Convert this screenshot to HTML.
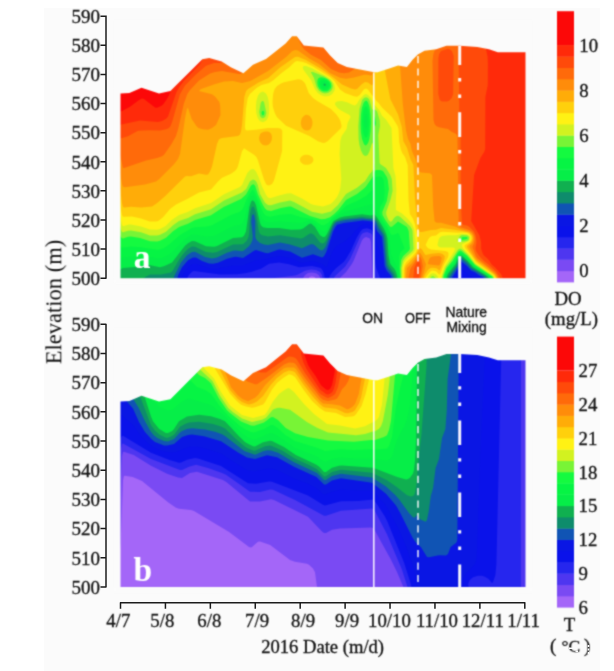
<!DOCTYPE html>
<html><head><meta charset="utf-8"><title>chart</title>
<style>html,body{margin:0;padding:0;background:#fff}body{width:614px;height:671px;overflow:hidden;font-family:"Liberation Serif",serif}svg{display:block}</style></head>
<body>
<svg width="614" height="671" viewBox="0 0 614 671">
<defs><filter id="soft" x="-2%" y="-2%" width="104%" height="104%" color-interpolation-filters="sRGB"><feConvolveMatrix order="3" kernelMatrix="0.05 0.1 0.05 0.1 0.4 0.1 0.05 0.1 0.05" edgeMode="none"/></filter></defs>
<rect width="614" height="671" fill="#fff"/>
<rect x="44" y="8" width="556" height="663" fill="#fbfbfb"/>
<g filter="url(#soft)">
<g>
<rect x="119.5" y="30" width="407" height="249.2" fill="#A466F8"/>
<path fill="#7A4AF3" fill-rule="evenodd" d="M119,30 527,30 527,280 314.3,280 315.5,279 315.5,278 314.6,277 312,276.3 310,276.7 309,277.6 308.9,279 309.9,280 119,280Z"/>
<path fill="#4E36F0" fill-rule="evenodd" d="M119,30 527,30 527,280 372.8,280 371,241.9 370,238.4 366,237.1 363.9,238 362,240.2 353.5,261 351.8,264 346.1,272 339.8,278 339,280 320.1,280 320,277 318.7,275 316,273.3 312,272.4 308,273.1 305.1,275 303.1,278 303.3,280 119,280Z"/>
<path fill="#2626EE" fill-rule="evenodd" d="M119,30 527,30 527,280 374.5,280 372.7,237 372,234.7 371,233.4 367,231.9 363,232.9 361,234.9 350.1,259 345,266.7 335.1,276 333.9,278 333.5,280 322.6,280 322,275 320.1,272 316,270.1 311,269.5 305,270.7 298,274.5 295,275.6 274.6,278 270.4,279 269.4,280 119,280Z"/>
<path fill="#0A12EA" fill-rule="evenodd" d="M119,30 527,30 527,280 380.1,280 379.7,277 376,267.6 375.3,263 373.3,234 372,230.5 371,229.5 367,228.2 363,228.9 360.7,231 356.6,238 351,250.5 346,258.9 343.6,262 336,268.2 332.5,272 329.7,276 328.8,280 324.7,280 324.5,276 323,271 321,268.3 319,267.5 312,266.1 299,267.2 289,264.2 279,262.6 269,263.7 261,268.7 252,271.7 245,273.3 237,274.3 220,274.6 194,270.9 192,271.7 188.9,275 187.6,277 187.2,280 119,280Z"/>
<path fill="#0A16E4" fill-rule="evenodd" d="M119,30 527,30 527,280 475.3,280 473.8,278 469,275.7 462,269.8 461,270.2 456,276.6 454.8,280 389.2,280 388.7,278 385,273.7 383.4,270 381,255.2 380,251.2 377,244.5 373,227 371,225.1 366,224.2 363,224.4 361,225.3 357.1,229 351,236.1 346,240.7 336,246.6 332,252.6 327.3,266 326,267.6 322,264 315,261.5 312,261.3 303,262.8 301,262.8 290,257.9 279,255.9 263,259.7 256,260.2 243,265.5 234,265.4 218,268.5 210,268.4 196,263.9 193,263.9 189.8,266 186,270.2 182.3,276 181.3,280 119,280Z"/>
<path fill="#1054B4" fill-rule="evenodd" d="M119,30 527,30 527,280 484.4,280 484,278.2 483,277.2 479,275.3 475,272.3 471,270.5 467,265.9 461,261.3 460,262.7 458.2,268 452.4,277 451.4,280 392,280 391,275.8 386.9,271 384.7,266 382,236.9 377,231 374.9,224 374,222.5 372,221.5 363,220.5 343.7,223 337,224.8 335,227.4 333,231.5 326.3,252 324,256.2 322,257.6 313,254.3 302,257.7 290,251.6 280,249.6 278,249.8 268,253.3 265.5,253 256,250 254,250.8 243,258.1 236,256.8 234,257 227,258.8 218,262.7 213,263.8 209,263.5 202,260.9 196,257.4 193,257.4 188,260.2 182,267.2 178,275.6 177.1,280 119,280Z"/>
<path fill="#0E8C6C" fill-rule="evenodd" d="M119,30 527,30 527,280 486.5,280 486,278 484.2,276 471,268.2 467,263.2 461,258.4 460,258.8 457,266.7 449,277.9 448.7,280 394,280 392.9,275 388,268.5 386.4,265 383.7,236 382,232.7 378.6,228 376,221.7 374,219.8 362,218.4 345.5,220 336.8,222 335,223.4 333,226.6 326,246 324,249.1 322,250.5 320,249.9 314,244.7 312,244.1 310,244.5 302,248.3 290,244.4 280,242.5 268,245.1 264,244.4 260,242.9 256.6,240 255.3,237 255.3,221 254.1,215 253,213.9 251.9,216 251.2,222 252.7,236 252.4,240 251.2,243 249.2,246 244,250.6 242,251.3 236,250.4 234,250.6 227,252.8 217,257.5 212,258.4 205,256.9 195,251.8 192,252.1 187,255.3 181,262.5 174.4,276 173.3,280 119,280Z"/>
<path fill="#10B050" fill-rule="evenodd" d="M119,30 527,30 527,280 488.3,280 487.8,278 485.9,276 472,267.4 468,262.3 463,257.9 461,256.8 460,257 459,258.1 456.5,265 448.2,276 447.1,280 396,280 395.6,277 394.6,274 389,266.3 388.1,264 386.8,255 385.9,239 385,235 377,220.3 375,217.8 371,217.9 362,216.7 342,218.9 336,220.9 334,222.5 332.5,225 326,240.8 324,243.1 322,243.6 320,242.5 314,234.8 311,233.3 309,234.1 303,238.1 301,238.6 280,235.2 268,236.5 262,235.3 260,233.7 258.7,231 256,212.9 254,207.1 253,206.4 252,207.1 251.1,209 250,214.2 249.2,233 248.5,237 246.6,241 243,244.2 233,244.6 217,251.9 213,252.7 206,252 195,246.7 192,246.6 187.9,249 184,252.9 179.5,259 173,270.2 171,272.4 161,274.6 150,274.5 145.2,277 144.2,278 143.4,280 119,280Z"/>
<path fill="#06EE48" fill-rule="evenodd" d="M119,30 527,30 527,280 490.1,280 489.4,278 487.4,276 473.1,267 467,259.9 462,255.8 460,255.4 458.5,257 455.6,264 448,273.6 446.5,277 446,280 397.6,280 397.2,276 396,271.9 394.5,269 391,265 390,262.9 388.5,255 387.4,238 386.3,234 384.1,229 377,217.2 375,215 374,214.6 371,215.4 362,214.3 344,216.5 340,217.5 333.6,221 331.7,224 327,234.1 325,236.7 323,237.1 320,235.3 315,227.1 311,223.6 309,224.1 303,228.5 300,229.4 291,229.8 279,228 267,228.1 263,227.3 261,225.4 260,223.1 256,205.3 254.6,202 253,200.4 252,200.6 251,202 249.4,207 246,231.6 244,235.7 242,237.2 233,238.1 217,245.9 214,246.7 206,246.3 195,241.3 192,240.9 188,243.3 185,245.8 172,262.4 164.5,266 160,267.2 148,264.7 138,266.7 123,267.9 119,270ZM324,83.5 323.5,85 325,85.9 325.8,85 325.5,84Z"/>
<path fill="#06F444" fill-rule="evenodd" d="M119,30 527,30 527,280 491.5,280 491,278 485,273.2 474,266.5 467,258.5 462,254.4 460,253.8 458,255.8 455,262.7 448,270.9 445.7,276 445,280 398.8,280 397,267.3 391,254.6 389.3,239 387.4,232 385.6,228 381,221.1 377.2,214 375,207.7 372,204.6 369,204.8 344,212.3 333.8,219 332,221 327,229.1 325,230.9 323,231.2 320,229.6 315.7,224 311,220.7 309,220.8 301,223 280,221.4 269,222.3 265,221.4 263,219.7 261.4,217 256.6,201 255,197.7 253,195.6 251,196.6 249,200 244.3,220 243,222.7 241,224.5 233,226.3 216,235 213,236 206,236.6 195,234.4 192,234.5 184.9,239 171,253.1 166,256.2 161,258.2 158,258.3 147,256.5 130,256.7 122,257.8 119,257.2ZM322,81.5 320.8,84 322,87 324,88.3 327,87.6 328.1,86 327.6,83 325,81ZM366,114.1 365,115.3 364.4,121 364.9,127 366,128.4 367,126.3 367.4,121 367,116.2Z"/>
<path fill="#14FA40" fill-rule="evenodd" d="M119,30 527,30 527,280 492.6,280 492.2,278 491,276.6 474.8,266 467,257.1 462,252.9 460,252.2 457.9,254 453.8,262 447.6,269 444.6,276 444,280 399.8,280 398.9,267 399.1,257 400.1,253 401,251.6 404.2,249 404.4,248 399,234 398,233.1 394,234.7 392,234.8 391,234.4 386.7,226 382,219.2 379.5,214 379.4,211 380.1,207 384.1,200 384.6,191 383.6,180 382,177.3 380,176.5 376,176.7 375,177.5 374,180 373,187 372,190.3 366,196 357,201.1 346,205.7 338.7,213 332.6,218 328,223 324,225.2 321,224.9 315.6,221 312,219.1 302,217.4 291,214.1 280,214.7 270,216.7 266,215.7 264,213.7 262.4,211 256,195 254,191 253,190.1 252,190.3 250,193 246.7,199 243,208.6 240,211.8 231,215 212,225.3 207,226.5 195,227.2 192,228 180,235 168.5,245 164,247.9 160,249.4 157,249.7 141,247.3 131,246.4 122,247.8 119,244.6ZM320.4,80 319.2,82 319.1,84 320.8,88 324,89.9 326,89.9 328,89 329.8,86 329.7,84 328.6,82 326.2,80 324,79.2 322,79.2ZM366,106.2 364.8,107 363.3,111 362.3,122 363.3,133 365,137.2 366,137.6 367,136.7 368.3,133 369.4,122 368.4,111 367,107Z"/>
<path fill="#78F436" fill-rule="evenodd" d="M119,30 527,30 527,280 493.4,280 493.1,278 491.5,276 475,265.1 467.4,256 462,251.4 460,250.6 458,251.9 452.5,261 446.7,268 443.9,275 443,280 400.8,280 400.2,268 401.1,260 403.2,256 408.7,251 410,249 408.7,231 407,227 398,221.6 392,226.8 390,226.7 385.3,220 382.5,215 382.3,212 386.8,201 388.9,189 387.8,180 386.8,177 383,171.1 380,169.9 376,170 375,170.7 372,177.9 366,186.5 364,188.6 357,193.9 346,200 338.3,210 334.2,214 330,217.3 325,219 321,219.3 310,216.1 291,206.5 289,206.4 280.8,208 271,210.9 267,210.3 265,208.6 263,205.3 258,194.7 255.2,186 254,184.6 253,184.2 251,185.6 246,194.6 241,199 223.6,207 211,215.3 195,220.1 188,223.7 179.1,227 173,231.2 166,237.8 160,240.7 157,241.5 150,241.3 140.1,238 131,236.4 128,236.7 123,238.4 122,238.2 120.9,237 119,232.6ZM318.6,78 317.5,80 317.3,83 317.9,86 319.6,89 322,90.9 324,91.5 327,91.4 329,90.3 330.8,88 331.3,86 330.7,83 329.3,81 327,79.1 324,77.8 321,77.3ZM366,100.6 364,101.9 362,107.4 361,114 360.6,124 360.9,132 362,139.1 364,144.3 365,145.3 366,145.5 368,143.3 369.4,139 370.5,132 371,123 370.6,114 369.5,107 368,102.4 367,101ZM263,110.7 262,111.2 261.5,113 262,115 263,115.4 264,114.7 264.3,113 264,111.6ZM375,115.7 374.2,123 375,126.4 375.8,125 376,123ZM461.1,239 461.9,240 467,239.1 467.6,238 466.8,237 463,236.9 462,237.2Z"/>
<path fill="#D2F220" fill-rule="evenodd" d="M119,30 527,30 527,280 494.2,280 493.9,278 492.6,276 475,264 468,255.1 462,249.6 460,248.5 458,249.5 450.5,261 446,266.8 442.8,275 442,280 436.3,280 435.9,278 433,276 430.8,277 429.7,280 401.7,280 401.4,268 402.9,261 405,257.8 412.4,251 413.5,249 412.5,231 411.9,229 410,226 400,216.7 398,215.8 396,216.3 394,218 392,221 391,221.7 390,221.6 388.5,220 386.4,215 386.2,212 390.4,200 392.6,191 391.8,179 390.3,175 386,168.1 380.2,164 379.6,163 378.3,135 380,126 379.7,120 377,111.2 375,109.4 373,109.8 372,109.1 369.6,100 368,98.1 366,97.3 364,98 362.1,100 359.5,109 358.3,126 358.6,139 359.5,145 361,150.5 363,154.4 365,155.9 367,155.4 368,154.4 369.6,151 372,142.9 373,143.6 374.4,163 373,169 372,171.6 369,175.1 365,181.3 357,187.7 346,194.1 338,205.1 331,211.5 322,213.8 312,211.8 294,201.9 290,200.4 280,202.4 271,205.2 268,205 265,202.8 260,194 257.8,185 256.5,182 255,180.3 253,179.5 250,181.2 246.2,189 242,192.5 224,200.6 211,209.2 195,214.3 188,218 179,221.1 173,225.2 166,231.8 160,234.7 157,235.5 150,235.4 141,232.3 131,230.4 128,230.7 123,232.3 122,231.9 120.7,229 119,220.5ZM310.8,72 314,78 316.5,87 319,90.8 322,92.8 325,93.5 328,93 331,91 332.3,89 332.9,86 332.1,83 329.8,80 324,76.3 313,71.9ZM263,100.9 262,101 260.7,103 259.2,112 260,116 261,117.5 263,118.3 265.2,117 266.4,113 264,102ZM469.1,237 467,235.3 462,235.1 460.1,236 457.4,240 458,241 460,242.1 466,241.3 468,240.4 469,239.2Z"/>
<path fill="#FFF214" fill-rule="evenodd" d="M119,30 527,30 527,280 495,280 494.3,277 493,275.3 476,263.7 469.4,255 462.9,248 461.7,245 462.6,244 469,241.1 470.4,238 469.7,236 468,234.4 462,233.7 456,235.3 448,235.2 442,236.1 440,237.2 438.8,239 437.4,245 438.9,247 441,247.6 453,247.5 454.6,248 454.9,249 454.3,251 444.4,267 440.4,280 438.7,280 438.4,278 437,275.3 435,273.8 433,273.2 431,273.8 429,275.9 427.7,278 427.4,280 402.7,280 402.6,268 404,262.6 406,259.7 414,252.2 415.6,249 415.5,240 414.2,229 412.1,224 408,219.1 402,213.5 395.9,210 395.8,201 396.4,190 395.5,176 393.4,168 391.5,128 386.3,120 382,115.7 379.2,110 373.9,104 370.9,98 368,94.9 366,93.9 364,94.7 359.1,100 357,103.7 355,105.4 353,105 347,102.2 342,101.1 338,101.2 336,102 335.1,103 335.2,105 337.6,108 341,110.5 349.5,115 350.6,117 347.6,123 346.6,129 341.7,136 340.3,141 339.6,154 341.3,179 340.2,189 339,193.1 337,197.1 333.9,201 330.7,204 323,206.4 314.1,205 311,204 302,198.5 291,193.2 287,193.6 279,195.4 271,198 269,197.9 267.5,197 266,194.7 262,186.5 259,177.9 256,171.6 254,169.3 252,168.9 250,169.9 247.3,173 242,185 239.9,187 224,194.3 211,203.1 195,208.2 187.7,212 179,215 172,219.8 165.6,226 160,228.9 157,229.7 150,229.6 141,226.5 131,224.6 129,224.6 123,226.2 122,225 121,220.8 119,207.8ZM303,66.6 302.8,68 303.6,70 311,80.1 314.8,89 317.7,93 321,95.2 325,96.4 329,96 332,94.3 334.3,91 335.1,88 334.2,84 331.5,80 327,76.5 312,68.3 306,66.1 304,66ZM263,91.6 260,92.7 258,95.6 256.4,101 255.9,107 256.3,113 257.7,118 260,121.3 263,122.2 266,120.7 267.8,118 268.9,114 269.2,109 268.8,102 267.7,97 266,93.6Z"/>
<path fill="#FFD00C" fill-rule="evenodd" d="M119,30 527,30 527,280 495.8,280 495.2,277 493.7,275 476,262.4 470.9,255 465.1,248 464.5,246 464.9,245 469.8,242 471.4,239 471,236.2 469.2,234 467,233 463,232.5 458,232.7 443,231.8 440,232.2 436,235.5 432,236 430.1,237 428.4,239 425.6,245 427.7,248 431,249.6 445.3,251 448,252.1 448.6,254 448.1,257 443.8,265 440,274.4 439,274.3 436,271.2 432,270.5 430,271.7 425.9,277 425.3,280 403.6,280 403.7,269 404.7,265 406.4,262 412,256.9 416,252.3 417.4,248 417.9,243 417.3,237 415,224.2 413,218.8 409.9,214 408.5,200 407.7,165 405,157.1 402.2,153 400.7,149 399.2,142 398.5,129 397.6,126 392,117.1 382,107.5 378.7,103 376,100.4 374,97 371.9,95 368,89.5 366,88.6 364,89.3 359.7,95 357,96.7 354,96.3 345,93.1 340,89.6 334.4,81 329.8,77 313,66.4 306,62.9 302,61.7 297,61.1 295,61.8 289,67.6 281.6,73 273,80.6 269,82.9 261.4,85 256.5,88 249.9,94 247.7,98 246,108.8 244.9,127 245.5,130 247,130.4 256,129.7 268,128 278,128 281,128.7 282.3,131 282.1,151 274,180.6 272.1,184 269,185.5 267,185 266,184.1 264,179.6 257.8,160 256.4,157 254,154.8 244,148.2 242,151.2 238,165.9 237,168.4 235,171 231,173.8 222,177.7 218,181.5 211,189.6 199,192.4 187.2,199 176,204.4 170,208.9 163,217.3 158.2,221 156,221.6 150,221.5 141,218.5 132,216.4 123,216.8 122,215.1 121,210.3 119,194.1ZM277,86 281,83.4 284,82.2 298,79.3 300,79.4 302,80.2 304,81.9 305.4,84 308.7,93 313,98 317.2,101 331,108.9 336,114 338.9,118 340.4,121 341.6,126 341.1,128 327.9,141 325,142.8 323,143 318,141.3 309.4,136 286,125.8 276.8,117 274.8,113 272.9,107 272.5,102 273.1,94 274.7,89ZM300.3,158 302,156.1 304,155.1 306,154.7 309,154.9 312.4,157 313.4,159 313.3,161 312,163 310,164.3 308,164.8 305,164.8 302.8,164 300.6,162 299.9,160Z"/>
<path fill="#FFAC08" fill-rule="evenodd" d="M123,206.8 122,203 119,180.4 119,30 375.2,30 375,72 373.3,83 372,85.6 368,82.5 365,81.9 362,83.9 357,89 355,89.5 351,88.5 342,84.5 334.1,78 321,68.7 306,59.9 298,56.8 295,57.1 280,67.5 268.3,78 258,82.8 248,89 246.1,91 244.3,97 242,124.9 241,131.5 240,134.4 238,135.9 222,138.1 219,139.3 217,144.1 212,166.6 210,171.4 208,174.4 206,174.8 199,173.5 191,176.3 187,176 185,176.5 165,196.3 157.2,203 152,206.5 141,207.5 131,206.7 124,207.4ZM384.7,30 527,30 527,280 496.6,280 496,277 494,274.2 476,260.8 467.4,248 466.9,246 471,242.4 472.5,239 472.4,237 471.5,235 469,232.6 455,229.8 441,228 436,229.7 431,229.9 422,232 420,231.9 419,231 417.6,225 414.9,197 413.4,165 410.4,159 407,147.8 403.3,141 401.8,127 398,114.2 390.3,99 385.3,73 384.7,67ZM306,114.8 308,115 310,116.2 311.8,119 312.5,122 312.3,125 311.2,128 310,129.6 308,130.6 305,130.2 303.1,129 301.6,127 300.8,124 301,121 302,118 304,115.7ZM265,131.4 268,131.5 270,132.4 271.3,134 272,137 271.7,140 270.3,143 268,145 266,145.6 263,144.9 261,143.3 259.6,141 259,138 260.1,134 262,132.4ZM444.7,256 444.5,259 440,270 439,270.2 437,268.6 435,267.9 432,267.7 430,268.3 427.9,270 425,274.6 424,277 423.6,280 404.6,280 404.9,269 405.9,266 416,255.1 419,248.9 420,248.1 422,249.5 425,254.6 426,255.1 431,253.7 439,253.1 442.5,254Z"/>
<path fill="#FF8C0A" fill-rule="evenodd" d="M123,186.8 122,184.1 119,166.6 119,30 373.2,30 373.1,71 372,74.9 371,75.6 367,74.7 364,74.7 354,77.4 346,78.7 340,77.7 330,73 319,64 310,59.1 298,50.6 295,50 292,51.2 286.1,57 268,71.1 250.3,81 242,83.1 233,80.9 224,81.6 215.3,84 201,89.1 198.9,91 212,94.2 215,96.5 219.4,102 220.2,106 220.5,115 216,125 212,128 208,129.8 203,129.3 198.4,128 196.4,126 191.7,119 188,107.9 187,108.4 185,118.3 180,153.9 178,159 174,164.3 159,179.3 156,181.4 145,184.6 125,187.3ZM400,30 527,30 527,280 497.4,280 496.9,277 495,274 487,267.3 477,260 475,257.6 469.5,247 469.6,246 472.3,243 473.4,240 473.2,236 471.4,233 469,231.4 461,229.2 455,226.5 441,222.7 437,222.7 435.3,222 434.6,221 433.2,207 432,175 430,173.3 421,172.5 419,171.6 418,169.3 416.4,161 412,151.3 410.5,144 408,138.8 406,130.4 402.8,104 400.1,66ZM420,252.8 422,255.4 425.9,264 424.4,271 422.4,277 422.1,280 405.8,280 407,268 412,262.9 419,253.2ZM441.7,258 441,261.7 440,264.3 439,265.4 430,264.6 427.7,264 429.1,259 431,257 434,256.2 439,255.9 441,256.8Z"/>
<path fill="#FF6A0A" fill-rule="evenodd" d="M242.5,30 242.5,69 241.9,73 241,74 239,74.1 222,71 215,71.9 210,73.4 199,80.6 190,90.1 187.3,94 183.7,104 178.4,128 176,136 171.5,144 164,154.8 162,156.3 157,158 146,160.6 124,168 123,167.7 120.1,155 119,152.4 119,30ZM296.6,30 356.8,30 356.4,58 355.7,67 354.7,69 349,72.4 344,73.2 339,72.5 331,68.9 321,59.9 311,54.8 304,49.2 301.8,46 297.3,37 296.7,35ZM435.7,30 527,30 527,280 498.6,280 497.6,276 495,272.5 477.2,258 476,256.3 472.4,247 474.1,243 474.7,240 474.4,236 473,233 471,231 468,229.4 461,227.2 459.6,226 458.7,224 457.4,136 456.2,134 452,132.1 448,128.9 439,127.3 436.1,126 434.6,124 433.5,120 432.5,61 433.4,54 435.6,48ZM420,257 421.6,260 422.8,266 420.5,280 408.1,280 410.3,269 418,257.5 419,256.7Z"/>
<path fill="#FF4A0A" fill-rule="evenodd" d="M222.5,30 222.5,59 222,62.5 220,63.1 214,62.9 206,65.8 195,75.2 185,85.6 180,94.1 172.4,121 170.5,126 169,128.1 166,129.3 160,130.6 149,130.3 138,130.8 128,136.3 122,138 119,138.3 119,30ZM458.4,30 527,30 527,280 500.3,280 499.7,277 496,271.6 488,264.1 484,261 479.2,256 476,251.1 475.4,248 476.4,243 476.4,240 475.5,235 474,231.5 469,226.5 467,225.5 463,224.8 462,223.7 460.7,200 460.6,136 459.4,123ZM448,48.8 450,49.4 451.9,51 453.7,56 453.1,94 451.7,98 449,100.8 447,101.4 442,101.5 439.8,100 438.3,94 438.4,58 439.2,54 441,50.9ZM419,260.6 420.1,263 420.7,268 418.8,280 413.1,280 414.3,268 417,262 418,260.9Z"/>
<path fill="#FF2A0A" fill-rule="evenodd" d="M119,30 202.3,30 202.3,57 201.4,62 199.2,65 183.7,81 179.2,87 176.5,92 168,116.4 166,118.7 162,121 158,122 140,120.6 119,125ZM485.5,30 527,30 527,280 502.7,280 502.4,277 501,274 495,267.3 492,264.7 488,258.9 484,255.5 483,254 481.2,249 481.1,242 479.3,235 471.2,221 474.1,175 480.4,158 484.2,152 485.2,149 485.4,97 487.8,85 487.9,63 487.6,57 485.6,47Z"/>
<path fill="#FC0808" fill-rule="evenodd" d="M119,30 170.7,30 170.5,91 169.2,95 166.3,100 163,104.6 161,106.1 157,107.8 155,107.5 144,99 142,98.6 139,100 130,106.8 122,110.9 119,111.8Z"/>
<path fill="#FC0808" fill-rule="evenodd" d="M119,30 159,30 159,90 158.4,92 157,92.4 153,92.1 142,89.5 139,90.5 129,96.2 119,98.6Z"/>
<polygon fill="#fbfbfb" points="120.5,278.2 120.5,93.4 129.4,92.9 141.5,87.7 159,93.4 170.4,91.1 178.4,83.1 189.8,71.7 202.3,59.2 209.2,58.1 221.7,61.5 230.8,67.2 243.4,73.2 253,64.8 266,59.1 276.5,50.7 285.6,43.5 292.1,36.2 296.8,36.2 303.8,45.5 323.4,47.4 329.9,55.2 337.7,63 346.8,66.9 362.5,70 374.2,72.2 377.6,72.2 389.3,68.4 398.1,65.4 406.9,66.9 412.8,59.6 417.8,54.6 424.5,50.8 436.2,49.3 446.5,45.8 459.7,45.8 477.3,47 489,49.3 497.8,52.2 525.5,52.2 525.5,278.2 525.5,283.2 531.5,283.2 531.5,20 114.5,20 114.5,283.2 120.5,283.2"/>
<rect x="114.5" y="278.2" width="417" height="6" fill="#fbfbfb"/>
</g>
<g>
<rect x="119.5" y="338.1" width="407" height="249.9" fill="#A466F8"/>
<path fill="#7A4AF3" fill-rule="evenodd" d="M119,338 527,338 527,588 317.1,588 315,572.2 313,568.4 309,564.7 307,563.8 295,561.7 290,560 270.2,545 260,541.5 258,541.7 252,546.9 251,547.4 249,546.9 229.1,532 194,511 191,509.9 179,508.8 176,507.7 168,502.3 142,481 132.7,477 125,475.7 123.9,476 123,480.4 120.7,543 119,559.9Z"/>
<path fill="#4E36F0" fill-rule="evenodd" d="M119,338 527,338 527,588 403.8,588 397,571.9 391,559.7 375,530.7 373,527.9 371,527.4 340,528.5 332,529.7 326,533 324,533 322,531.5 308,516.8 274,499.9 271,499.2 260,501.6 250,501.5 226.3,482 222.9,480 197,471.8 190,473.1 182,477.9 178,477.5 167,473.7 151,465.8 133.7,455 124,451.7 123,451.9 122,455.7 119,521.3Z"/>
<path fill="#2626EE" fill-rule="evenodd" d="M119,338 521,338 520.9,588 407.8,588 402,569.7 387,534.2 375,511.3 373.1,509 372,508.6 341,510.8 326,515.7 324,515.7 295,500 273,489.7 270,489.6 260,491.9 250,491.7 226,474.8 222,472.9 208,468 196,464.7 189,466.7 182,470 180,470 151,459 123,443.6 122,444.1 120.7,450 119,482.6Z"/>
<path fill="#0A12EA" fill-rule="evenodd" d="M119,338 501.2,338 501.2,360 496.4,564 495.4,575 493,582.3 492,583 488.6,579 485,576.8 482,575.8 478,575.7 473,577.2 469.8,580 468.2,584 468.7,588 411.6,588 410.5,583 404.2,563 387.2,521 384.6,516 376.2,503 373,499.5 358,501.1 341,501.3 325,505.5 323,504.8 308,495.4 272,481.8 269,481.6 256,483.8 248,483.3 221,466 198,458.4 195,458 187,459.8 181,462.4 179,462.8 169.5,460 151,452.7 123,435.8 122,435.9 120.7,438 119,448.2ZM491.6,588 492,587.5 492.6,588Z"/>
<path fill="#0A16E4" fill-rule="evenodd" d="M119,338 484.9,338 484.8,357 480.8,445 476.8,557 475.9,562 474.4,565 466.7,573 463.3,578 461.8,583 462,588 417.5,588 415.9,577 412.3,564 405,544 398.5,529 386,505.8 373,491.3 371,490.8 359,490.7 341,489.5 332,491.8 325,494.8 323,493.9 317,488.8 309,484.3 294,478.4 278,470.6 272,468.8 268,468.4 255,471.2 248,470.4 244,468.4 221,453.7 206,448.8 196,446.5 191,446.6 185,448.2 176.4,452 172,452.6 164,451.6 155,448.2 151.4,446 146,441.6 141.6,437 132,424 126.9,420 122,415.2 121,415.4 119,418.4Z"/>
<path fill="#1054B4" fill-rule="evenodd" d="M126.2,338 458.9,338 457.3,539 457,541.2 456,542.9 450.6,547 448,553.9 446,555.4 439,555.2 429,557.3 427,557 421,547.3 416,542.8 413,538.6 400,512.4 396,505.6 386,493.7 372,482.7 341,478.2 332,480.4 326,484.4 324,484.5 316.5,477 294,466.8 277,457.2 267,455.2 255,459.1 247,457.5 238,452.4 221,441.3 204,436.3 192,434.6 188.1,435 182,437 174,443.9 167,445.5 164,445.4 155,442.1 151.3,439 145,431.9 139,422 133,408.6 126.4,401Z"/>
<path fill="#0E8C6C" fill-rule="evenodd" d="M133,338 451,338 450.9,355 447.6,379 446.8,410 445.4,429 442,438 439,459 435.6,468 433.1,488 430.8,496 428.8,511 427,520.1 426,521.4 425,521.4 420,519.2 417,515 415,517.3 414,517.6 413,517.2 409,513.1 398.8,499 395.2,495 386,486.4 372,477.6 341,473.7 332,476 326,480 324,480.1 317,472.9 294,462.2 278,452.7 271,450.5 267,450.2 263,451.2 256,454.4 254,454.6 244.3,451 225,436 222,434.2 215,431.8 205,429.4 192,428.2 187,429 182,431 180,432.4 174,439.1 168,441.4 164,441.1 157.3,438 153.5,435 150.4,431 145.4,422 138.7,408 133.3,399Z"/>
<path fill="#10B050" fill-rule="evenodd" d="M139.8,338 426.9,338 426.5,366 421.4,435 419,454.6 416.4,485 415,492.9 414,495.2 413,496.1 411,496.6 407,495.3 397,487.2 387,480.2 372,472.7 341,469.8 332,472.1 326,476.3 324,476.5 317,469.2 309,465 295,458.8 283,451.1 273,446.4 270,445.6 265,446.3 255,450.7 253,450.4 247,448 244,446 235.9,439 225,428.4 221,426.5 213,424 199,421.8 189,422.5 185,423.9 180,426.8 174,434.8 171,436.6 168,437.8 166,437.8 160,435 155,430.8 151,425.2 139.9,396Z"/>
<path fill="#06EE48" fill-rule="evenodd" d="M144.6,338 417.3,338 416.1,440 415,460.4 414,469.8 413,473.4 410,477.8 408,479 406,479.4 397.2,477 373,467.7 342,465.5 339,465.8 332,467.8 326,471.9 324,472.1 319,466.6 316,464.4 295.8,455 284,447 272,441 270,440.7 263,442.3 255,446.5 253,446.2 248.4,444 245,441.9 238.8,436 225,421.3 220,419 211,416.3 199,414.8 187,416.4 179,421.3 174,429.1 172.2,431 168,433.1 165.8,433 159,428.7 153,421.2 151,416.6 145,398 144.6,394Z"/>
<path fill="#06F444" fill-rule="evenodd" d="M150.9,338 413,338 413,367 411.9,385 410,405.2 407,419.3 404.3,426 397,439.7 392,456.2 390,459.1 387,460.8 372,458.5 355,458.4 341,457.6 332,459 326,461.7 324,461.8 317,456.6 295,447.9 278,436.2 272,433.1 269,433.5 256,439.2 253,439.5 247,436.9 243,434.1 235,427 224,415.6 218,411.1 213,406.5 210,404.7 189,398.5 186,399.6 180,403.1 173,409.3 169,410.4 166,409.8 160,407.1 153,401 151.5,399 150.9,397Z"/>
<path fill="#14FA40" fill-rule="evenodd" d="M189.2,338 403.8,338 403.5,375 400,388.6 396,407.1 392,437 389,446 387,448.4 377,449.4 371,449.2 354,450 340,449.3 325,451 317,447.7 295,440.9 285,434.7 278,428.3 273,425.1 271,425 264,428.9 254,432.5 251,431.9 245,429.2 240,426 228,415.5 218.9,405 211,393.8 205,390.1 197,387.1 190,380 189.2,377Z"/>
<path fill="#78F436" fill-rule="evenodd" d="M196.6,338 395.2,338 395.1,374 391,420.8 389,429.9 387,435.2 384,437 375,440 371,440 354,441.8 328,440.5 308,437 295,433.3 285.7,428 278,419.9 273,416.9 271,417.3 264,422.6 254,425.7 251,425.5 241,421.4 230,413.1 227,410.3 218.6,398 211,383.3 205,378 199,374.9 197.1,373 196.6,369Z"/>
<path fill="#D2F220" fill-rule="evenodd" d="M199.9,338 390,338 389.6,380 387.8,395 382.9,421 381.1,426 379,428.8 375,431.3 372,431.7 365,433.9 356,435.2 328,432.5 317,427.8 306.9,422 290,409.7 280,407.7 277,408 273,409.6 266,417.8 262,419.8 252,422 242,418.6 232.8,412 228.3,408 220,395.7 212.5,381 200.6,370 199.9,367Z"/>
<path fill="#FFF214" fill-rule="evenodd" d="M203.3,338 384.7,338 384.6,379 382,404.4 379,416.8 377.6,419 374,422 372,422.5 365,426.2 355,428.5 340,425.6 327,424 314,414 304,404 294,391.9 289,387.9 287,388.5 283,390.9 279,394 273,401.6 267,412.1 264.5,415 253,418.1 242,415 230,405.4 221,391.9 214,378.6 203.9,368 203.3,365Z"/>
<path fill="#FFD00C" fill-rule="evenodd" d="M214.4,338 369,338 368.9,380 365.6,394 361.6,406 356,414.2 354,415.9 352,416.4 345,417 336,412.9 325,411.5 320,408.2 312.1,401 303.7,390 295,377.1 291.8,375 289,374.3 283.1,378 277,383.1 272,389.6 265,402.3 263,404.4 255,407.3 252,407.8 246,406.5 241,404.7 236.7,401 230.2,394 215.2,369 214.4,365Z"/>
<path fill="#FFAC08" fill-rule="evenodd" d="M219.1,338 365,338 364.9,379 361.2,397 359.2,403 355,410.2 353,411.7 348,413.3 345,412.9 336,408.7 325,407.4 323,406.7 319.7,404 313,397 304,385.2 295,372.2 293,371.2 289,370.5 284,372.4 276.9,378 270.6,385 263,396 257,401.6 253,403.5 249,404.4 247,404.1 242,402.1 237.8,399 230,390 219.5,369Z"/>
<path fill="#FF8C0A" fill-rule="evenodd" d="M224.5,338 361.5,338 361.4,379 358.8,394 355,403.9 352.2,407 348.6,409 347,409.2 340,405.6 332,404.2 323,403.5 320,401 312.4,392 304,381.1 296,369.1 294,367.6 287,367.4 284,368.2 275.3,375 265,385.2 258,394.9 255,397.8 248,401.2 242.4,399 238,395.6 231,387.2 225,371.7 224.5,368Z"/>
<path fill="#FF6A0A" fill-rule="evenodd" d="M244.4,338 350.1,338 350.1,374 349.6,377 348.2,381 346,385.1 342,389.3 338.7,396 337,398.4 335,399.6 328,401 323,399.7 320,397.3 305,378 296.3,365 295,363.6 293,362.8 289,362.5 284,364.4 267,377.6 257,384.2 255,384.3 248,381.7 245.3,380 244.4,378Z"/>
<path fill="#FF4A0A" fill-rule="evenodd" d="M256.1,338 341.1,338 341,372 338,387 335.1,394 332,396.2 328,397.9 326,397.3 321,394.5 319,392.4 305,373.1 297,359.8 295,357.8 292,356.7 289,356.6 287,357.6 266,372.4 261,372.5 257,371.5 256.1,369Z"/>
<path fill="#FF2A0A" fill-rule="evenodd" d="M300.2,338 337.4,338 337.4,369 335.5,383 333.8,389 332.3,392 330,393.8 328,394.6 326,394.1 320,389.6 306.5,369 303.2,362 301.3,355 300.3,348Z"/>
<path fill="#FC0808" fill-rule="evenodd" d="M303.5,338 335.1,338 334.7,372 332,385 330,389 328.2,390 326,389.5 321,385.2 315.6,376 310,368.3 308,364.7 303.8,353Z"/>
<polygon fill="#fbfbfb" points="120.5,587 120.5,401.5 129.4,401 141.5,395.8 159,401.5 170.4,399.2 178.4,391.2 189.8,379.8 202.3,367.3 209.2,366.2 221.7,369.6 230.8,375.3 243.4,381.3 253,372.9 266,367.2 276.5,358.8 285.6,351.6 292.1,344.3 296.8,344.3 303.8,353.6 323.4,355.5 329.9,363.3 337.7,371.1 346.8,375 362.5,378.1 374.2,380.3 377.6,380.3 389.3,376.5 398.1,373.5 406.9,375 412.8,367.7 417.8,362.7 424.5,358.9 436.2,357.4 446.5,353.9 459.7,353.9 477.3,355.1 489,357.4 497.8,360.3 525.5,360.3 525.5,587 525.5,592 531.5,592 531.5,328.1 114.5,328.1 114.5,592 120.5,592"/>
<rect x="114.5" y="587" width="417" height="6" fill="#fbfbfb"/>
</g>
<line x1="373.8" y1="72.5" x2="373.8" y2="278.2" stroke="#fff" stroke-width="1.5" opacity="0.95"/>
<line x1="418" y1="56" x2="418" y2="278.2" stroke="#fff" stroke-width="1.6" stroke-dasharray="7.2,5.2" opacity="0.85"/>
<line x1="459.7" y1="46" x2="459.7" y2="278.2" stroke="#fff" stroke-width="3" stroke-dasharray="24.6,13.2,3.4,13,3.4,14.4" stroke-dashoffset="5.7" opacity="0.95"/>
<line x1="373.8" y1="380.6" x2="373.8" y2="587" stroke="#fff" stroke-width="1.5" opacity="0.95"/>
<line x1="418" y1="364.1" x2="418" y2="587" stroke="#fff" stroke-width="1.6" stroke-dasharray="7.2,5.2" opacity="0.85"/>
<line x1="459.7" y1="354.1" x2="459.7" y2="587" stroke="#fff" stroke-width="3" stroke-dasharray="24.6,13.2,3.4,13,3.4,14.4" stroke-dashoffset="5.7" opacity="0.95"/>
</g>
<g filter="url(#soft)">
<rect x="557" y="270.717" width="17" height="11.6833" fill="#A466F8"/>
<rect x="557" y="259.433" width="17" height="11.6833" fill="#7A4AF3"/>
<rect x="557" y="248.15" width="17" height="11.6833" fill="#4E36F0"/>
<rect x="557" y="236.867" width="17" height="11.6833" fill="#2626EE"/>
<rect x="557" y="225.583" width="17" height="11.6833" fill="#0A12EA"/>
<rect x="557" y="214.3" width="17" height="11.6833" fill="#0A16E4"/>
<rect x="557" y="203.017" width="17" height="11.6833" fill="#1054B4"/>
<rect x="557" y="191.733" width="17" height="11.6833" fill="#0E8C6C"/>
<rect x="557" y="180.45" width="17" height="11.6833" fill="#10B050"/>
<rect x="557" y="169.167" width="17" height="11.6833" fill="#06EE48"/>
<rect x="557" y="157.883" width="17" height="11.6833" fill="#06F444"/>
<rect x="557" y="146.6" width="17" height="11.6833" fill="#14FA40"/>
<rect x="557" y="135.317" width="17" height="11.6833" fill="#78F436"/>
<rect x="557" y="124.033" width="17" height="11.6833" fill="#D2F220"/>
<rect x="557" y="112.75" width="17" height="11.6833" fill="#FFF214"/>
<rect x="557" y="101.467" width="17" height="11.6833" fill="#FFD00C"/>
<rect x="557" y="90.1833" width="17" height="11.6833" fill="#FFAC08"/>
<rect x="557" y="78.9" width="17" height="11.6833" fill="#FF8C0A"/>
<rect x="557" y="67.6167" width="17" height="11.6833" fill="#FF6A0A"/>
<rect x="557" y="56.3333" width="17" height="11.6833" fill="#FF4A0A"/>
<rect x="557" y="45.05" width="17" height="11.6833" fill="#FF2A0A"/>
<rect x="557" y="11.2" width="17" height="33.85" fill="#FC0808"/>
<rect x="557" y="595.925" width="17" height="11.675" fill="#A466F8"/>
<rect x="557" y="584.65" width="17" height="11.675" fill="#7A4AF3"/>
<rect x="557" y="573.375" width="17" height="11.675" fill="#4E36F0"/>
<rect x="557" y="562.1" width="17" height="11.675" fill="#2626EE"/>
<rect x="557" y="550.825" width="17" height="11.675" fill="#0A12EA"/>
<rect x="557" y="539.55" width="17" height="11.675" fill="#0A16E4"/>
<rect x="557" y="528.275" width="17" height="11.675" fill="#1054B4"/>
<rect x="557" y="517" width="17" height="11.675" fill="#0E8C6C"/>
<rect x="557" y="505.725" width="17" height="11.675" fill="#10B050"/>
<rect x="557" y="494.45" width="17" height="11.675" fill="#06EE48"/>
<rect x="557" y="483.175" width="17" height="11.675" fill="#06F444"/>
<rect x="557" y="471.9" width="17" height="11.675" fill="#14FA40"/>
<rect x="557" y="460.625" width="17" height="11.675" fill="#78F436"/>
<rect x="557" y="449.35" width="17" height="11.675" fill="#D2F220"/>
<rect x="557" y="438.075" width="17" height="11.675" fill="#FFF214"/>
<rect x="557" y="426.8" width="17" height="11.675" fill="#FFD00C"/>
<rect x="557" y="415.525" width="17" height="11.675" fill="#FFAC08"/>
<rect x="557" y="404.25" width="17" height="11.675" fill="#FF8C0A"/>
<rect x="557" y="392.975" width="17" height="11.675" fill="#FF6A0A"/>
<rect x="557" y="381.7" width="17" height="11.675" fill="#FF4A0A"/>
<rect x="557" y="370.425" width="17" height="11.675" fill="#FF2A0A"/>
<rect x="557" y="336.6" width="17" height="33.825" fill="#FC0808"/>
</g>
<path d="M106,15.6V278.8M100.5,16.2H106M100.5,45.3111H106M100.5,74.4222H106M100.5,103.533H106M100.5,132.644H106M100.5,161.756H106M100.5,190.867H106M100.5,219.978H106M100.5,249.089H106M100.5,278.2H106M106,323.7V587.6M100.5,324.3H106M100.5,353.489H106M100.5,382.678H106M100.5,411.867H106M100.5,441.056H106M100.5,470.244H106M100.5,499.433H106M100.5,528.622H106M100.5,557.811H106M100.5,587H106M119.9,602.8H525.4M120.5,602.8V608.8M165.422,602.8V608.8M210.344,602.8V608.8M255.267,602.8V608.8M300.189,602.8V608.8M345.111,602.8V608.8M390.033,602.8V608.8M434.956,602.8V608.8M479.878,602.8V608.8M524.8,602.8V608.8" stroke="#1c1c1c" stroke-width="1.5" fill="none"/>
<g fill="#101010" stroke="#101010" stroke-width="0.3" filter="url(#soft)"><text x="100" y="23" font-size="19" text-anchor="end" font-family="Liberation Serif" >590</text>
<text x="100" y="52.1111" font-size="19" text-anchor="end" font-family="Liberation Serif" >580</text>
<text x="100" y="81.2222" font-size="19" text-anchor="end" font-family="Liberation Serif" >570</text>
<text x="100" y="110.333" font-size="19" text-anchor="end" font-family="Liberation Serif" >560</text>
<text x="100" y="139.444" font-size="19" text-anchor="end" font-family="Liberation Serif" >550</text>
<text x="100" y="168.556" font-size="19" text-anchor="end" font-family="Liberation Serif" >540</text>
<text x="100" y="197.667" font-size="19" text-anchor="end" font-family="Liberation Serif" >530</text>
<text x="100" y="226.778" font-size="19" text-anchor="end" font-family="Liberation Serif" >520</text>
<text x="100" y="255.889" font-size="19" text-anchor="end" font-family="Liberation Serif" >510</text>
<text x="100" y="285" font-size="19" text-anchor="end" font-family="Liberation Serif" >500</text>
<text x="100" y="331.1" font-size="19" text-anchor="end" font-family="Liberation Serif" >590</text>
<text x="100" y="360.289" font-size="19" text-anchor="end" font-family="Liberation Serif" >580</text>
<text x="100" y="389.478" font-size="19" text-anchor="end" font-family="Liberation Serif" >570</text>
<text x="100" y="418.667" font-size="19" text-anchor="end" font-family="Liberation Serif" >560</text>
<text x="100" y="447.856" font-size="19" text-anchor="end" font-family="Liberation Serif" >550</text>
<text x="100" y="477.044" font-size="19" text-anchor="end" font-family="Liberation Serif" >540</text>
<text x="100" y="506.233" font-size="19" text-anchor="end" font-family="Liberation Serif" >530</text>
<text x="100" y="535.422" font-size="19" text-anchor="end" font-family="Liberation Serif" >520</text>
<text x="100" y="564.611" font-size="19" text-anchor="end" font-family="Liberation Serif" >510</text>
<text x="100" y="593.8" font-size="19" text-anchor="end" font-family="Liberation Serif" >500</text>
<text x="118.3" y="627.3" font-size="18.8" text-anchor="middle" font-family="Liberation Serif" >4/7</text>
<text x="162.322" y="627.3" font-size="18.8" text-anchor="middle" font-family="Liberation Serif" >5/8</text>
<text x="209.344" y="627.3" font-size="18.8" text-anchor="middle" font-family="Liberation Serif" >6/8</text>
<text x="257.067" y="627.3" font-size="18.8" text-anchor="middle" font-family="Liberation Serif" >7/9</text>
<text x="303.089" y="627.3" font-size="18.8" text-anchor="middle" font-family="Liberation Serif" >8/9</text>
<text x="347.111" y="627.3" font-size="18.8" text-anchor="middle" font-family="Liberation Serif" >9/9</text>
<text x="389.433" y="627.3" font-size="18.8" text-anchor="middle" font-family="Liberation Serif" >10/10</text>
<text x="436.956" y="627.3" font-size="18.8" text-anchor="middle" font-family="Liberation Serif" >11/10</text>
<text x="482.778" y="627.3" font-size="18.8" text-anchor="middle" font-family="Liberation Serif" >12/11</text>
<text x="523.6" y="627.3" font-size="18.8" text-anchor="middle" font-family="Liberation Serif" >1/11</text>
<text x="322.6" y="653" font-size="18.6" text-anchor="middle" font-family="Liberation Serif" >2016 Date (m/d)</text>
<text transform="translate(61.3,302) rotate(-90)" font-size="22.5" text-anchor="middle" stroke="none" font-family="Liberation Serif">Elevation (m)</text>
<text x="579.3" y="51.5" font-size="18.8" text-anchor="start" font-family="Liberation Serif" >10</text>
<text x="579.3" y="96.6" font-size="18.8" text-anchor="start" font-family="Liberation Serif" >8</text>
<text x="579.3" y="141.8" font-size="18.8" text-anchor="start" font-family="Liberation Serif" >6</text>
<text x="579.3" y="187" font-size="18.8" text-anchor="start" font-family="Liberation Serif" >4</text>
<text x="579.3" y="232.2" font-size="18.8" text-anchor="start" font-family="Liberation Serif" >2</text>
<text x="579.3" y="277.4" font-size="18.8" text-anchor="start" font-family="Liberation Serif" >0</text>
<text x="578.6" y="377.025" font-size="18.8" text-anchor="start" font-family="Liberation Serif" >27</text>
<text x="578.6" y="410.85" font-size="18.8" text-anchor="start" font-family="Liberation Serif" >24</text>
<text x="578.6" y="444.675" font-size="18.8" text-anchor="start" font-family="Liberation Serif" >21</text>
<text x="578.6" y="478.5" font-size="18.8" text-anchor="start" font-family="Liberation Serif" >18</text>
<text x="578.6" y="512.325" font-size="18.8" text-anchor="start" font-family="Liberation Serif" >15</text>
<text x="578.6" y="546.15" font-size="18.8" text-anchor="start" font-family="Liberation Serif" >12</text>
<text x="578.6" y="579.975" font-size="18.8" text-anchor="start" font-family="Liberation Serif" >9</text>
<text x="578.6" y="613.8" font-size="18.8" text-anchor="start" font-family="Liberation Serif" >6</text>
<text x="568" y="305.3" font-size="18.8" text-anchor="middle" font-family="Liberation Serif" >DO</text>
<text x="571.4" y="325.3" font-size="18.8" text-anchor="middle" font-family="Liberation Serif" >(mg/L)</text>
<text x="569.6" y="630.5" font-size="18.8" text-anchor="middle" font-family="Liberation Serif" >T</text>
<text x="550" y="652" font-size="19" font-family="Liberation Serif">(</text><text x="561.5" y="652" font-size="17.5" font-family="Liberation Serif">°C</text><text x="584" y="652" font-size="19" font-family="Liberation Serif">)</text>
<text x="362.3" y="323.4" font-size="13.9" text-anchor="start" font-family="Liberation Sans" >ON</text>
<text x="405" y="323.4" font-size="13.9" text-anchor="start" font-family="Liberation Sans" textLength="25.6" lengthAdjust="spacingAndGlyphs">OFF</text>
<text x="445.4" y="316.5" font-size="13.9" text-anchor="start" font-family="Liberation Sans" >Nature</text>
<text x="446.5" y="332" font-size="13.9" text-anchor="start" font-family="Liberation Sans" >Mixing</text>
<text x="133.8" y="268.4" font-size="33.5" font-weight="bold" fill="#fff" stroke="none" font-family="Liberation Serif">a</text>
<text x="133.6" y="580.7" font-size="33.5" font-weight="bold" fill="#fff" stroke="none" font-family="Liberation Serif">b</text></g>
<path d="M569,648.2h6.5M575.5,651.3h2.5M588.5,645v2M588.5,648.5v2M588.5,652v2" stroke="#fbfbfb" stroke-width="1.6" fill="none"/>
</svg>
</body></html>
